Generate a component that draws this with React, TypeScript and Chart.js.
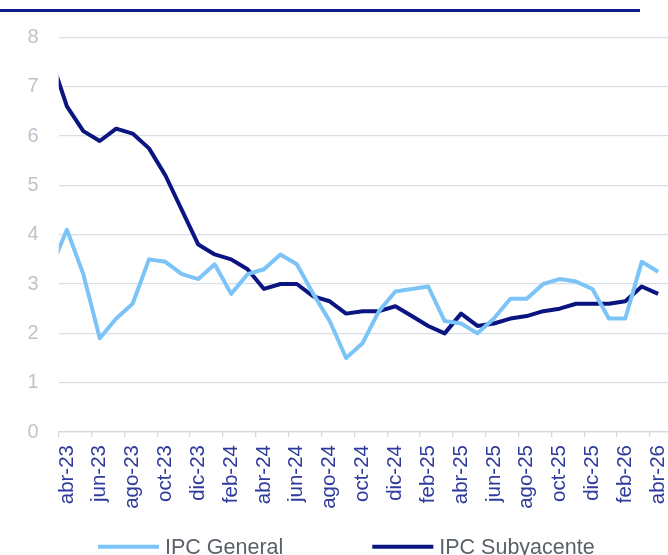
import React, { useEffect, useRef } from 'react';
import { Chart, registerables } from 'chart.js';

Chart.register(...registerables);

// Months: the first entry (mar-23) lies just left of the visible axis start.
const months = [
  'mar-23', 'abr-23', 'may-23', 'jun-23', 'jul-23', 'ago-23', 'sep-23', 'oct-23', 'nov-23', 'dic-23',
  'ene-24', 'feb-24', 'mar-24', 'abr-24', 'may-24', 'jun-24', 'jul-24', 'ago-24', 'sep-24', 'oct-24',
  'nov-24', 'dic-24', 'ene-25', 'feb-25', 'mar-25', 'abr-25', 'may-25', 'jun-25', 'jul-25', 'ago-25',
  'sep-25', 'oct-25', 'nov-25', 'dic-25', 'ene-26', 'feb-26', 'mar-26', 'abr-26',
];

const ipcGeneral = [
  3.3, 4.1, 3.2, 1.9, 2.3, 2.6, 3.5, 3.45, 3.2, 3.1,
  3.4, 2.8, 3.2, 3.3, 3.6, 3.4, 2.8, 2.25, 1.5, 1.8,
  2.45, 2.85, 2.9, 2.95, 2.25, 2.2, 2.0, 2.3, 2.7, 2.7,
  3.0, 3.1, 3.05, 2.9, 2.3, 2.3, 3.45, 3.25,
];

const ipcSubyacente = [
  7.6, 6.6, 6.1, 5.9, 6.15, 6.05, 5.75, 5.2, 4.5, 3.8,
  3.6, 3.5, 3.3, 2.9, 3.0, 3.0, 2.75, 2.65, 2.4, 2.45,
  2.45, 2.55, 2.35, 2.15, 2.0, 2.4, 2.15, 2.2, 2.3, 2.35,
  2.45, 2.5, 2.6, 2.6, 2.6, 2.65, 2.95, 2.8,
];

const seriesNames = ['IPC General', 'IPC Subyacente'];
const seriesColors = ['#7CC4F8', '#0A1581'];

const yMin = 0;
const yMax = 8;
const yStep = 1;

const FONT = 'Arial, "Liberation Sans", sans-serif';

const topRule = {
  id: 'topRule',
  afterDraw(chart: any) {
    const ctx = chart.ctx;
    ctx.save();
    ctx.strokeStyle = '#0B1C8F';
    ctx.lineWidth = 3;
    ctx.beginPath();
    ctx.moveTo(0, 10.5);
    ctx.lineTo(640, 10.5);
    ctx.stroke();
    ctx.restore();
  },
};

const bottomLegend = {
  id: 'bottomLegend',
  afterDraw(chart: any) {
    const ctx = chart.ctx;
    ctx.save();
    ctx.font = `21.5px ${FONT}`;
    let x = 98;
    const yLine = 546.7;
    const yText = 553.5;
    chart.data.datasets.forEach((ds: any) => {
      ctx.strokeStyle = ds.borderColor;
      ctx.lineWidth = 4;
      ctx.lineCap = 'butt';
      ctx.beginPath();
      ctx.moveTo(x, yLine);
      ctx.lineTo(x + 61, yLine);
      ctx.stroke();
      x += 61 + 6;
      ctx.fillStyle = '#5B6168';
      ctx.textBaseline = 'alphabetic';
      ctx.textAlign = 'left';
      ctx.fillText(ds.label, x, yText);
      x += ctx.measureText(ds.label).width + 89;
    });
    ctx.restore();
  },
};

export default function App() {
  const canvasRef = useRef<HTMLCanvasElement | null>(null);

  useEffect(() => {
    if (!canvasRef.current) return;
    const toPoints = (arr: number[]) => arr.map((v, i) => ({ x: i, y: v }));
    const tickValues: number[] = [];
    for (let i = 1; i < months.length; i += 2) tickValues.push(i - 0.5);

    const chart = new Chart(canvasRef.current, {
      type: 'line',
      data: {
        datasets: [
          {
            label: seriesNames[0],
            data: toPoints(ipcGeneral),
            borderColor: seriesColors[0],
            backgroundColor: seriesColors[0],
            borderWidth: 4,
            pointRadius: 0,
            tension: 0,
            borderJoinStyle: 'round',
            clip: 0,
          },
          {
            label: seriesNames[1],
            data: toPoints(ipcSubyacente),
            borderColor: seriesColors[1],
            backgroundColor: seriesColors[1],
            borderWidth: 4,
            pointRadius: 0,
            tension: 0,
            borderJoinStyle: 'round',
            clip: 0,
          },
        ],
      },
      options: {
        responsive: false,
        animation: false,
        layout: { padding: { top: 37.4, bottom: 43, left: 0, right: 0 } },
        plugins: {
          legend: { display: false },
          tooltip: { enabled: false },
        },
        scales: {
          x: {
            type: 'linear',
            min: 0.5,
            max: 37.6,
            afterBuildTicks: (scale: any) => {
              scale.ticks = tickValues.map((v) => ({ value: v }));
            },
            afterFit: (scale: any) => {
              scale.height = 80;
              scale.paddingLeft = 0;
              scale.paddingRight = 0;
            },
            grid: {
              display: true,
              drawOnChartArea: false,
              drawTicks: true,
              tickLength: 5,
              color: '#D3D8DF',
              lineWidth: 1.3,
            },
            border: { display: true, color: '#D3D8DF', width: 1.3 },
            ticks: {
              autoSkip: false,
              minRotation: 90,
              maxRotation: 90,
              padding: 8,
              labelOffset: 8.2,
              color: '#2E3A9C',
              font: { family: FONT, size: 20.5 },
              callback: (value: any) => months[Math.round(Number(value) + 0.5)] ?? '',
            },
          },
          y: {
            min: yMin,
            max: yMax,
            afterFit: (scale: any) => {
              scale.width = 58.7;
              scale.paddingTop = 0;
              scale.paddingBottom = 0;
            },
            grid: {
              color: '#D9DEE4',
              lineWidth: 1.3,
              drawTicks: false,
            },
            border: { display: false },
            ticks: {
              stepSize: yStep,
              padding: 20,
              color: '#BCC4CE',
              font: { family: FONT, size: 20 },
            },
          },
        },
      },
      plugins: [topRule, bottomLegend],
    } as any);

    return () => chart.destroy();
  }, []);

  return (
    <div style={{ position: 'fixed', left: 0, top: 0, width: 668, height: 555, overflow: 'hidden', background: '#fff' }}>
      <canvas ref={canvasRef} width={668} height={555} style={{ display: 'block' }} />
    </div>
  );
}
